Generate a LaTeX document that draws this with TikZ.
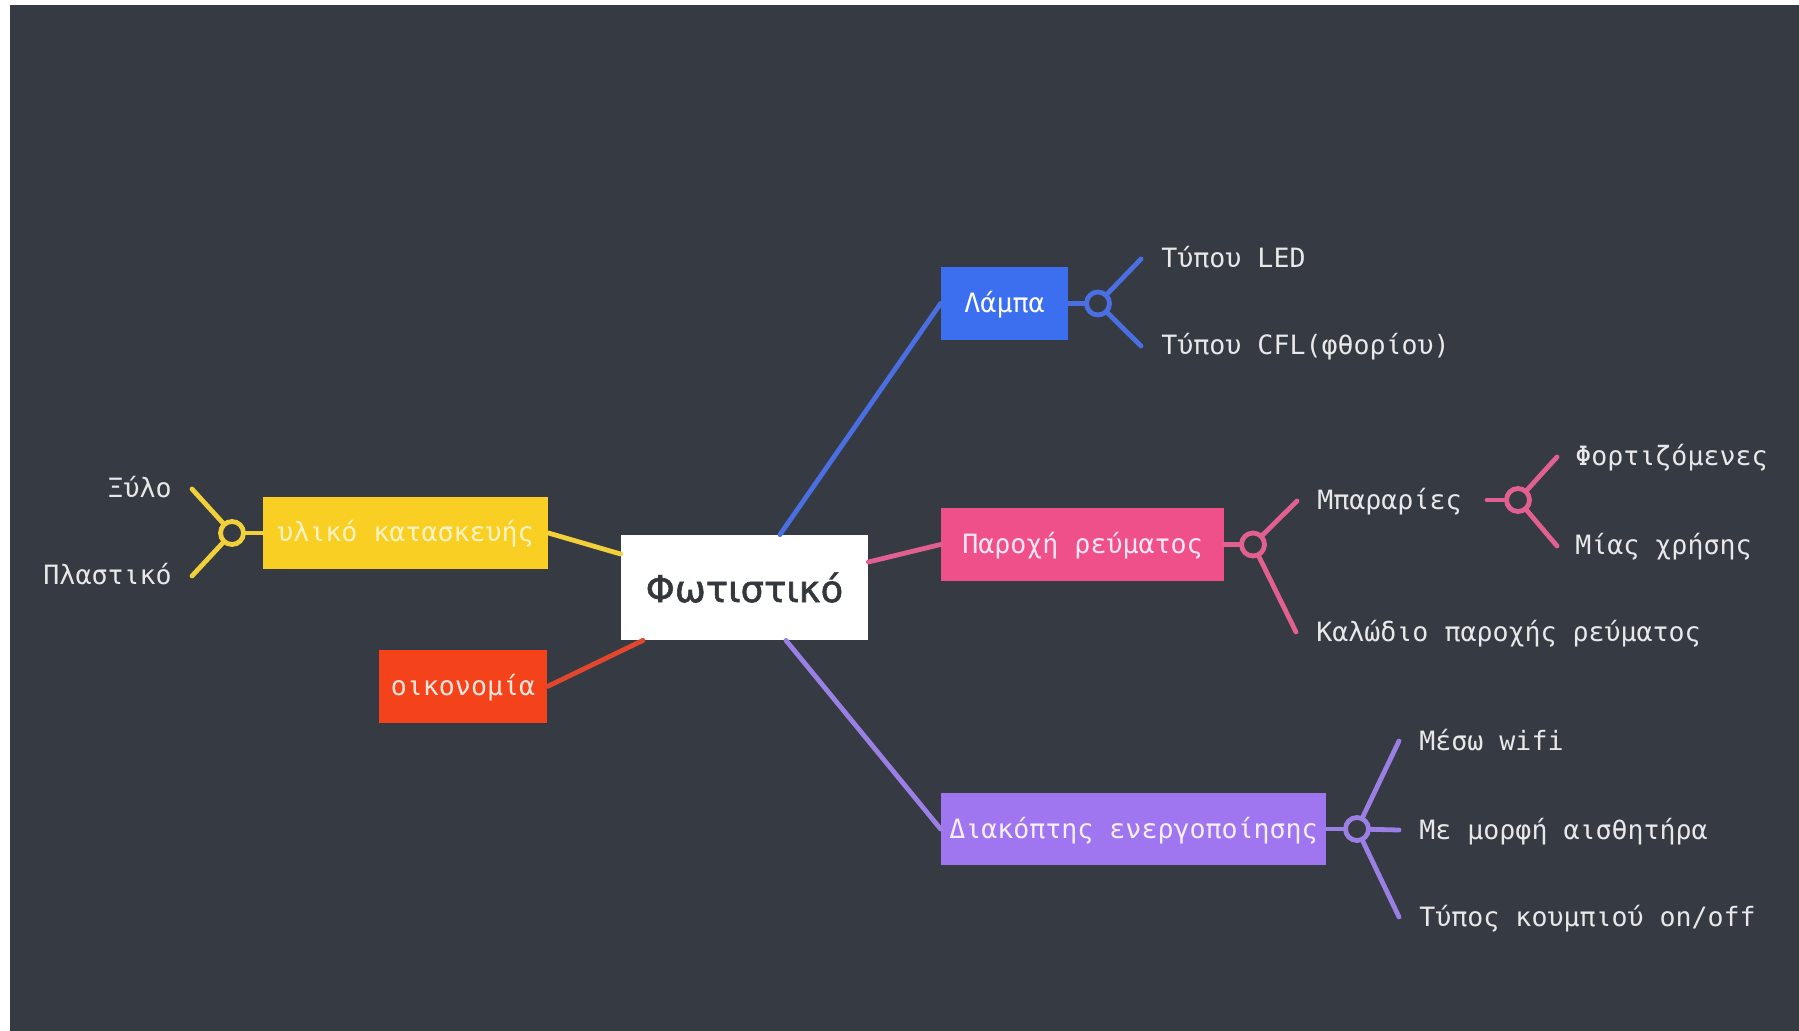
\documentclass[tikz,border=0pt]{standalone}
\usepackage{fontspec}
\setmainfont{DejaVu Sans}
\newfontfamily\labelfont{DejaVu Sans Mono}
\newfontfamily\centerfont[FakeBold=1.6]{DejaVu Sans}
\usetikzlibrary{calc}

\definecolor{bgdark}{HTML}{353A43}
\definecolor{ylwbox}{HTML}{F8CF22}
\definecolor{ylwline}{HTML}{F2D03A}
\definecolor{ylwtext}{HTML}{FFF3C4}
\definecolor{redbox}{HTML}{F4421B}
\definecolor{redline}{HTML}{E2462C}
\definecolor{redtext}{HTML}{FFE6DE}
\definecolor{bluebox}{HTML}{3C6EF0}
\definecolor{blueline}{HTML}{4A6FE2}
\definecolor{pinkbox}{HTML}{F0508A}
\definecolor{pinkline}{HTML}{E2608F}
\definecolor{pinktext}{HTML}{FFE8F0}
\definecolor{purpbox}{HTML}{9F76F0}
\definecolor{purpline}{HTML}{9A7FE4}
\definecolor{purptext}{HTML}{F4EEFF}
\definecolor{leaftext}{HTML}{E8E8E8}
\definecolor{centertext}{HTML}{34373C}

\begin{document}
\begin{tikzpicture}[x=0.5pt,y=-0.5pt,
  mmbox/.style={rectangle, inner sep=0pt, font=\labelfont\fontsize{13.3pt}{16pt}\selectfont, text height=11pt, text depth=2pt},
  leaf/.style={inner ysep=0pt, inner xsep=10pt, text=leaftext, font=\labelfont\fontsize{13.3pt}{16pt}\selectfont, text height=11pt, text depth=2pt},
  conn/.style={line width=2.4pt, line cap=round},
  hubc/.style={circle, minimum size=11.5pt, inner sep=0pt, line width=2.4pt, fill=bgdark}
]
% page and background
\fill[white] (0,0) rectangle (1799,1031);
\fill[bgdark] (10,5) rectangle (1799,1031);

% central node
\node[rectangle, fill=white, minimum width=123.5pt, minimum height=52.5pt, inner sep=0pt,
      text=centertext, font=\centerfont\fontsize{18.5pt}{22pt}\selectfont] (c) at (744.5,587.5) {Φωτιστικό};

% first-level boxes
\node[mmbox, fill=ylwbox, text=ylwtext, minimum width=142.5pt, minimum height=36pt] (mat) at (405.5,533) {υλικό κατασκευής};
\node[mmbox, fill=redbox, text=redtext, minimum width=84pt, minimum height=36.5pt] (eco) at (463,686.5) {οικονομία};
\node[mmbox, fill=bluebox, text=white, minimum width=63.5pt, minimum height=36.5pt] (lamp) at (1004.5,303.5) {Λάμπα};
\node[mmbox, fill=pinkbox, text=pinktext, minimum width=141.5pt, minimum height=36.5pt] (pow) at (1082.5,544.5) {Παροχή ρεύματος};
\node[mmbox, fill=purpbox, text=purptext, minimum width=192.5pt, minimum height=36pt] (sw) at (1133.5,829) {Διακόπτης ενεργοποίησης};

% connectors from the centre
\draw[conn, ylwline] ($(c.west)+(0,-33.5)$) -- (mat.east);
\draw[conn, redline] ($(c.south)+(-101.5,0)$) -- (eco.east);
\draw[conn, blueline] ($(c.north)+(35.5,0)$) -- (lamp.west);
\draw[conn, pinkline] ($(c.east)+(0,-25.5)$) -- (pow.west);
\draw[conn, purpline] ($(c.south)+(41.5,0)$) -- (sw.west);

% hub coordinates
\coordinate (hmat) at (232,533);
\coordinate (hlamp) at (1098,303.5);
\coordinate (hpow) at (1253,544.5);
\coordinate (hbat) at (1518,500);
\coordinate (hsw) at (1357,829);

% leaves
\node[leaf, anchor=east] (xylo) at (192,489) {Ξύλο};
\node[leaf, anchor=east] (plast) at (192,576) {Πλαστικό};
\node[leaf, anchor=west] (led) at (1141,259) {Τύπου LED};
\node[leaf, anchor=west] (cfl) at (1141,346) {Τύπου CFL(φθορίου)};
\node[leaf, anchor=west] (bat) at (1297,501) {Μπαραρίες};
\node[leaf, anchor=west, inner xsep=9pt] (charge) at (1557,457) {Φορτιζόμενες};
\node[leaf, anchor=west, inner xsep=9pt] (single) at (1557,546) {Μίας χρήσης};
\node[leaf, anchor=west] (cable) at (1296,632) {Καλώδιο παροχής ρεύματος};
\node[leaf, anchor=west] (wifi) at (1399,741) {Μέσω wifi};
\node[leaf, anchor=west] (sensor) at (1399,830) {Με μορφή αισθητήρα};
\node[leaf, anchor=west] (onoff) at (1399,917) {Τύπος κουμπιού on/off};

% stubs and branches
\draw[conn, ylwline] (mat.west) -- (hmat);
\draw[conn, ylwline] (hmat) -- (xylo.east);
\draw[conn, ylwline] (hmat) -- (plast.east);

\draw[conn, blueline] (lamp.east) -- (hlamp);
\draw[conn, blueline] (hlamp) -- (led.west);
\draw[conn, blueline] (hlamp) -- (cfl.west);

\draw[conn, pinkline] (pow.east) -- (hpow);
\draw[conn, pinkline] (hpow) -- (bat.west);
\draw[conn, pinkline] (hpow) -- (cable.west);

\draw[conn, pinkline] ($(bat.east)+(5,-1)$) -- (hbat);
\draw[conn, pinkline] (hbat) -- (charge.west);
\draw[conn, pinkline] (hbat) -- (single.west);

\draw[conn, purpline] (sw.east) -- (hsw);
\draw[conn, purpline] (hsw) -- (wifi.west);
\draw[conn, purpline] (hsw) -- (sensor.west);
\draw[conn, purpline] (hsw) -- (onoff.west);

% hub circles
\node[hubc, draw=ylwline] (hubmat) at (hmat) {};
\node[hubc, draw=blueline] (hublamp) at (hlamp) {};
\node[hubc, draw=pinkline] (hubpow) at (hpow) {};
\node[hubc, draw=pinkline] (hubbat) at (hbat) {};
\node[hubc, draw=purpline] (hubsw) at (hsw) {};
\end{tikzpicture}
\end{document}
